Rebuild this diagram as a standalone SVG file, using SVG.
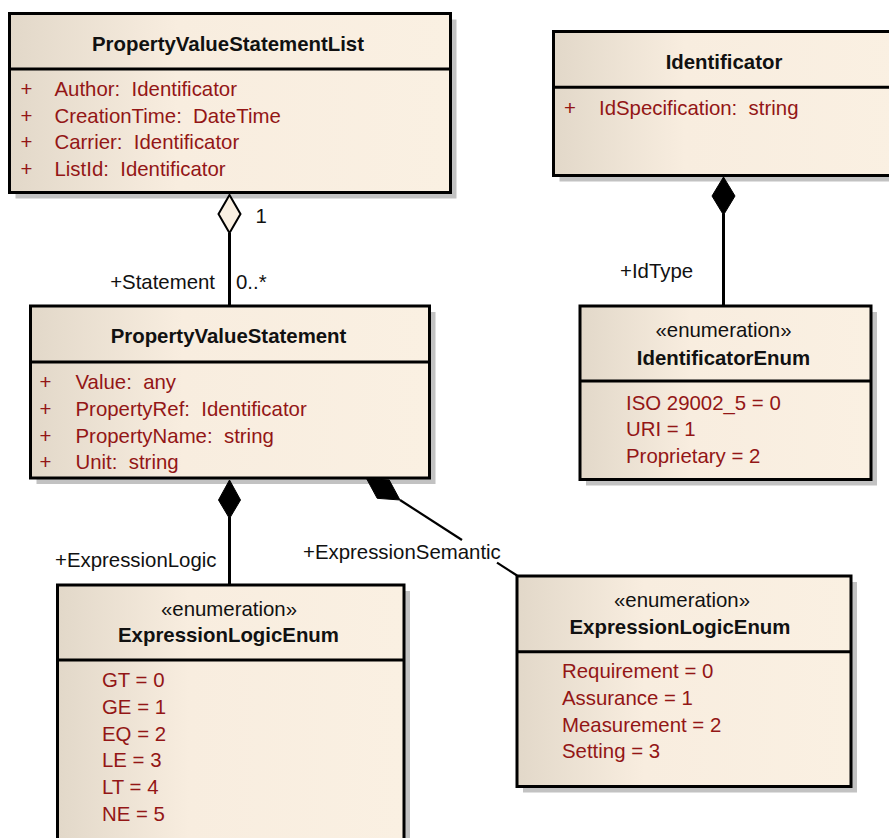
<svg xmlns="http://www.w3.org/2000/svg" width="889" height="838" viewBox="0 0 889 838">
  <defs>
    <linearGradient id="boxFill" x1="0" y1="0" x2="1" y2="0">
      <stop offset="0" stop-color="#E2D8C9"/>
      <stop offset="0.38" stop-color="#F8EDDF"/>
      <stop offset="1" stop-color="#FAF0E2"/>
    </linearGradient>
    <style>
      text { font-family: "Liberation Sans", Arial, sans-serif; font-size: 20.4px; white-space: pre; }
      .shadow { fill: #C2C2C2; stroke: none; }
      .box { fill: url(#boxFill); stroke: #000; stroke-width: 3; }
      .sep { stroke: #000; stroke-width: 3; }
      .title { font-weight: bold; fill: #111; text-anchor: middle; }
      .stereo { fill: #111; text-anchor: middle; }
      .attr { fill: #931616; }
      .label { fill: #111; }
      .line { stroke: #000; stroke-width: 3; fill: none; }
      .thin { stroke: #000; stroke-width: 2.2; fill: none; }
      .solid { fill: #000; stroke: #000; stroke-width: 1; }
      .hollow { fill: #FAF0E2; stroke: #000; stroke-width: 2; }
    </style>
  </defs>

  <rect width="889" height="838" fill="#FFFFFF"/>

  <!-- Class: PropertyValueStatementList -->
  <g id="PropertyValueStatementList">
    <rect class="shadow" x="15.5" y="19.5" width="441" height="179"/>
    <rect class="box" x="9.5" y="13.5" width="441" height="179"/>
    <line class="sep" x1="9.5" y1="69" x2="450.5" y2="69"/>
    <text class="title" x="228" y="51">PropertyValueStatementList</text>
    <text class="attr" x="20.5" y="96">+</text>
    <text class="attr" x="54.5" y="96" xml:space="preserve">Author:  Identificator</text>
    <text class="attr" x="20.5" y="122.7">+</text>
    <text class="attr" x="54.5" y="122.7" xml:space="preserve">CreationTime:  DateTime</text>
    <text class="attr" x="20.5" y="149.3">+</text>
    <text class="attr" x="54.5" y="149.3" xml:space="preserve">Carrier:  Identificator</text>
    <text class="attr" x="20.5" y="176">+</text>
    <text class="attr" x="54.5" y="176" xml:space="preserve">ListId:  Identificator</text>
  </g>

  <!-- Class: Identificator -->
  <g id="Identificator">
    <rect class="shadow" x="559.5" y="37.5" width="345" height="144"/>
    <rect class="box" x="553.5" y="31.5" width="345" height="144"/>
    <line class="sep" x1="553.5" y1="87.2" x2="898.5" y2="87.2"/>
    <text class="title" x="724" y="69">Identificator</text>
    <text class="attr" x="564" y="115">+</text>
    <text class="attr" x="599" y="115" xml:space="preserve">IdSpecification:  string</text>
  </g>

  <!-- Class: PropertyValueStatement -->
  <g id="PropertyValueStatement">
    <rect class="shadow" x="36.5" y="312" width="399" height="172"/>
    <rect class="box" x="30.5" y="306" width="399" height="172"/>
    <line class="sep" x1="30.5" y1="362" x2="429.5" y2="362"/>
    <text class="title" x="228.5" y="343.3">PropertyValueStatement</text>
    <text class="attr" x="39.5" y="389.3">+</text>
    <text class="attr" x="75.5" y="389.3" xml:space="preserve">Value:  any</text>
    <text class="attr" x="39.5" y="416">+</text>
    <text class="attr" x="75.5" y="416" xml:space="preserve">PropertyRef:  Identificator</text>
    <text class="attr" x="39.5" y="442.7">+</text>
    <text class="attr" x="75.5" y="442.7" xml:space="preserve">PropertyName:  string</text>
    <text class="attr" x="39.5" y="469.3">+</text>
    <text class="attr" x="75.5" y="469.3" xml:space="preserve">Unit:  string</text>
  </g>

  <!-- Enumeration: IdentificatorEnum -->
  <g id="IdentificatorEnum">
    <rect class="shadow" x="586" y="312" width="291" height="173.5"/>
    <rect class="box" x="580" y="306" width="291" height="173.5"/>
    <line class="sep" x1="580" y1="381" x2="871" y2="381"/>
    <text class="stereo" x="723.5" y="336.7">«enumeration»</text>
    <text class="title" x="723.5" y="364.5">IdentificatorEnum</text>
    <text class="attr" x="626" y="410">ISO 29002_5 = 0</text>
    <text class="attr" x="626" y="436.3">URI = 1</text>
    <text class="attr" x="626" y="462.7">Proprietary = 2</text>
  </g>

  <!-- Enumeration: ExpressionLogicEnum (logic operators) -->
  <g id="ExpressionLogicEnum-logic">
    <rect class="shadow" x="63.5" y="591" width="346.5" height="260"/>
    <rect class="box" x="57.5" y="585" width="346.5" height="260"/>
    <line class="sep" x1="57.5" y1="660" x2="404" y2="660"/>
    <text class="stereo" x="229" y="615.7">«enumeration»</text>
    <text class="title" x="228.5" y="642.3">ExpressionLogicEnum</text>
    <text class="attr" x="102" y="687.3">GT = 0</text>
    <text class="attr" x="102" y="714">GE = 1</text>
    <text class="attr" x="102" y="740.7">EQ = 2</text>
    <text class="attr" x="102" y="767.3">LE = 3</text>
    <text class="attr" x="102" y="794">LT = 4</text>
    <text class="attr" x="102" y="820.7">NE = 5</text>
  </g>

  <!-- Enumeration: ExpressionLogicEnum (semantic kinds) -->
  <g id="ExpressionLogicEnum-semantic">
    <rect class="shadow" x="523" y="582" width="334" height="210.5"/>
    <rect class="box" x="517" y="576" width="334" height="210.5"/>
    <line class="sep" x1="517" y1="651.7" x2="851" y2="651.7"/>
    <text class="stereo" x="682" y="606.7">«enumeration»</text>
    <text class="title" x="680" y="634">ExpressionLogicEnum</text>
    <text class="attr" x="562" y="678.3">Requirement = 0</text>
    <text class="attr" x="562" y="705">Assurance = 1</text>
    <text class="attr" x="562" y="731.7">Measurement = 2</text>
    <text class="attr" x="562" y="758.3">Setting = 3</text>
  </g>

  <!-- Associations -->
  <g id="connectors">
    <!-- aggregation: list to statements -->
    <line class="line" x1="229.5" y1="233" x2="229.5" y2="306"/>
    <polygon class="hollow" points="229.5,195 240.5,214 229.5,233 218.5,214"/>
    <text class="label" x="255.5" y="223">1</text>
    <text class="label" x="215" y="289" text-anchor="end">+Statement</text>
    <text class="label" x="236" y="289">0..*</text>

    <!-- composition: identificator to its type enum -->
    <line class="line" x1="723.5" y1="214" x2="723.5" y2="306"/>
    <polygon class="solid" points="723.5,177 735,196 723.5,215 712,196"/>
    <text class="label" x="620" y="278">+IdType</text>

    <!-- composition: statement to logic enum -->
    <line class="line" x1="229.5" y1="517" x2="229.5" y2="585"/>
    <polygon class="solid" points="229.5,480 240.5,500 229.5,518.5 218.5,500"/>
    <text class="label" x="55" y="567.3">+ExpressionLogic</text>

    <!-- composition: statement to semantic enum -->
    <polygon class="solid" points="366.5,478.5 389.2,480 400,500 377.2,498.3"/>
    <line class="thin" x1="400" y1="500" x2="462" y2="540"/>
    <line class="thin" x1="497" y1="562.6" x2="517" y2="575.5"/>
    <text class="label" x="303" y="559.3">+ExpressionSemantic</text>
  </g>
</svg>
